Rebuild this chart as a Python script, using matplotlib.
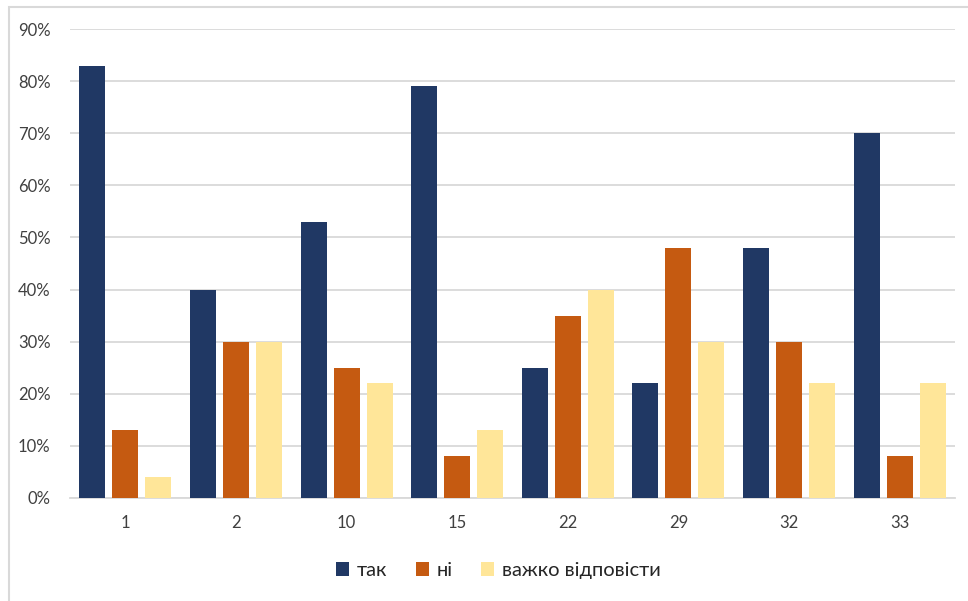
import numpy as np
import matplotlib.pyplot as plt
from matplotlib.patches import Rectangle
from matplotlib.ticker import FuncFormatter

categories = ['1', '2', '10', '15', '22', '29', '32', '33']
tak = [83, 40, 53, 79, 25, 22, 48, 70]
ni = [13, 30, 25, 8, 35, 48, 30, 8]
vazhko = [4, 30, 22, 13, 40, 30, 22, 22]

series = [('так', tak, '#203864'), ('ні', ni, '#C55A11'), ('важко відповісти', vazhko, '#FFE699')]

plt.rcParams['font.family'] = ['Lato', 'DejaVu Sans']

fig = plt.figure(figsize=(9.68, 6.01), dpi=100)
ax = fig.add_axes([0.0723, 0.1714, 0.9143, 0.7803])

# outer chart frame (left and top edges visible)
fig.add_artist(Rectangle((9 / 968, -0.1), 1.2, (601 - 7) / 601 + 0.1,
                         transform=fig.transFigure, fill=False,
                         edgecolor='#D9D9D9', linewidth=1.5))

x = np.arange(len(categories))
width = 0.235
step = 0.298
for i, (name, vals, color) in enumerate(series):
    ax.bar(x + (i - 1) * step, vals, width, color=color, label=name, zorder=3)

ax.set_xlim(-0.5, len(categories) - 0.5)
ax.set_ylim(0, 90)
ax.set_yticks(range(0, 91, 10))
ax.yaxis.set_major_formatter(FuncFormatter(lambda v, p: f'{int(v)}%'))
ax.set_xticks(x)
ax.set_xticklabels(categories)
ax.grid(axis='y', color='#D9D9D9', linewidth=1.3, zorder=0)
for s in ['top', 'right', 'left']:
    ax.spines[s].set_visible(False)
ax.spines['bottom'].set_color('#D9D9D9')
ax.spines['bottom'].set_linewidth(1.3)
ax.tick_params(axis='both', length=0, labelsize=12, colors='#404040')
ax.tick_params(axis='y', pad=14)
ax.tick_params(axis='x', pad=12)

ax.legend(loc='center', bbox_to_anchor=(0.484, -0.155), ncol=3, frameon=False,
          fontsize=14.5, handlelength=0.65, handleheight=0.65, handletextpad=0.4,
          columnspacing=1.4, labelcolor='#262626')

fig.savefig('out.png', dpi=100)
